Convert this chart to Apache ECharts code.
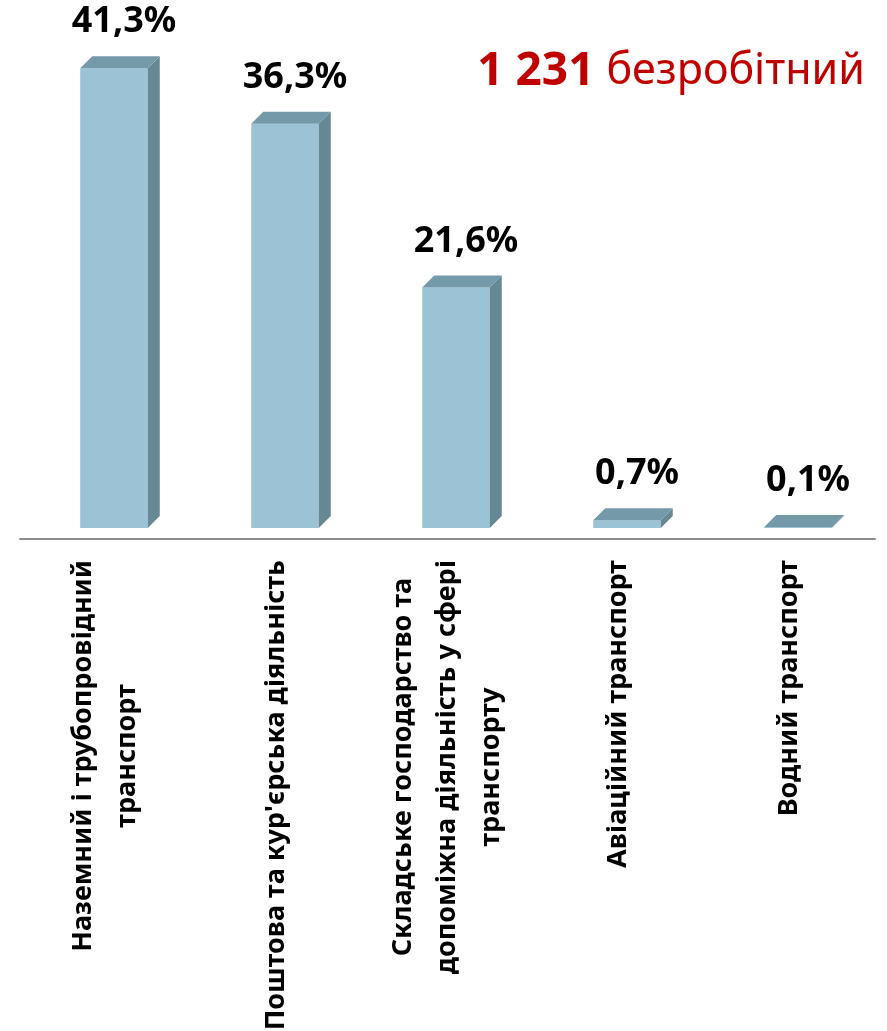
<!DOCTYPE html>
<html>
<head>
<meta charset="utf-8">
<script src="https://cdn.jsdelivr.net/npm/echarts@6/dist/echarts.min.js"></script>
<style>
html,body{margin:0;padding:0;background:#fff;}
#chart{width:887px;height:1031px;}
</style>
</head>
<body>
<div id="chart"></div>
<script>
var categories = [
  'Наземний і трубопровідний\nтранспорт',
  "Поштова та кур'єрська діяльність",
  'Складське господарство та\nдопоміжна діяльність у сфері\nтранспорту',
  'Авіаційний транспорт',
  'Водний транспорт'
];
var shares = [41.3, 36.3, 21.6, 0.7, 0.1];
var totalCount = '1 231';
var totalWord = 'безробітний';

var FRONT = '#9CC3D5', TOP = '#7499A9', SIDE = '#658894';
var DEPTH = 12, SHIFT = 8.5;

var chart = echarts.init(document.getElementById('chart'));
chart.setOption({
  animation: false,
  backgroundColor: '#fff',
  title: {
    right: 22, top: 47, padding: 0,
    text: '{a|' + totalCount + ' }{b|' + totalWord + '}',
    textStyle: {
      rich: {
        a: {fontFamily: 'Noto Sans', fontWeight: 'bold', fontSize: 46, color: '#C00000', lineHeight: 50},
        b: {fontFamily: 'Noto Sans', fontWeight: 'normal', fontSize: 43, color: '#C00000', lineHeight: 50}
      }
    }
  },
  grid: {left: 20, right: 12, top: 27, bottom: 503, outerBoundsMode: 'none', containLabel: false},
  xAxis: {
    type: 'category',
    data: categories,
    offset: 11,
    axisTick: {show: false},
    axisLine: {show: true, onZero: false, lineStyle: {color: '#8c8c8c', width: 2}},
    axisLabel: {
      interval: 0, rotate: 90, margin: 21,
      formatter: function (v) {
        return v.split('\n').map(function (l) { return '{c|' + l + '}'; }).join('\n');
      },
      rich: {
        c: {align: 'center', fontFamily: 'Noto Sans', fontWeight: 'bold', fontSize: 27, lineHeight: 44, color: '#000'}
      }
    }
  },
  yAxis: {type: 'value', min: 0, max: 45, show: false, splitLine: {show: false}},
  series: [{
    type: 'custom',
    data: shares.map(function (v, i) { return [i, v]; }),
    renderItem: function (params, api) {
      var idx = api.value(0), v = api.value(1);
      var top = api.coord([idx, v]);
      var base = api.coord([idx, 0]);
      var bw = api.size([1, 0])[0] * 0.395;
      var cx = top[0] + SHIFT;
      var x0 = cx - bw / 2, x1 = cx + bw / 2;
      var yT = top[1], yB = base[1];
      var d = DEPTH;
      return {
        type: 'group',
        children: [
          {type: 'rect', shape: {x: x0, y: yT, width: bw, height: Math.max(yB - yT, 0.5)}, style: {fill: FRONT}},
          {type: 'polygon', shape: {points: [[x1, yT], [x1 + d, yT - d], [x1 + d, yB - d], [x1, yB]]}, style: {fill: SIDE}},
          {type: 'polygon', shape: {points: [[x0, yT], [x0 + d, yT - d], [x1 + d, yT - d], [x1, yT]]}, style: {fill: TOP}},
          {type: 'text', style: {
            text: v.toFixed(1).replace('.', ',') + '%',
            x: cx + 10, y: yT - 46,
            align: 'center', verticalAlign: 'middle',
            fontFamily: 'Noto Sans', fontWeight: 'bold', fontSize: 36, fill: '#000'
          }}
        ]
      };
    }
  }]
});
</script>
</body>
</html>
